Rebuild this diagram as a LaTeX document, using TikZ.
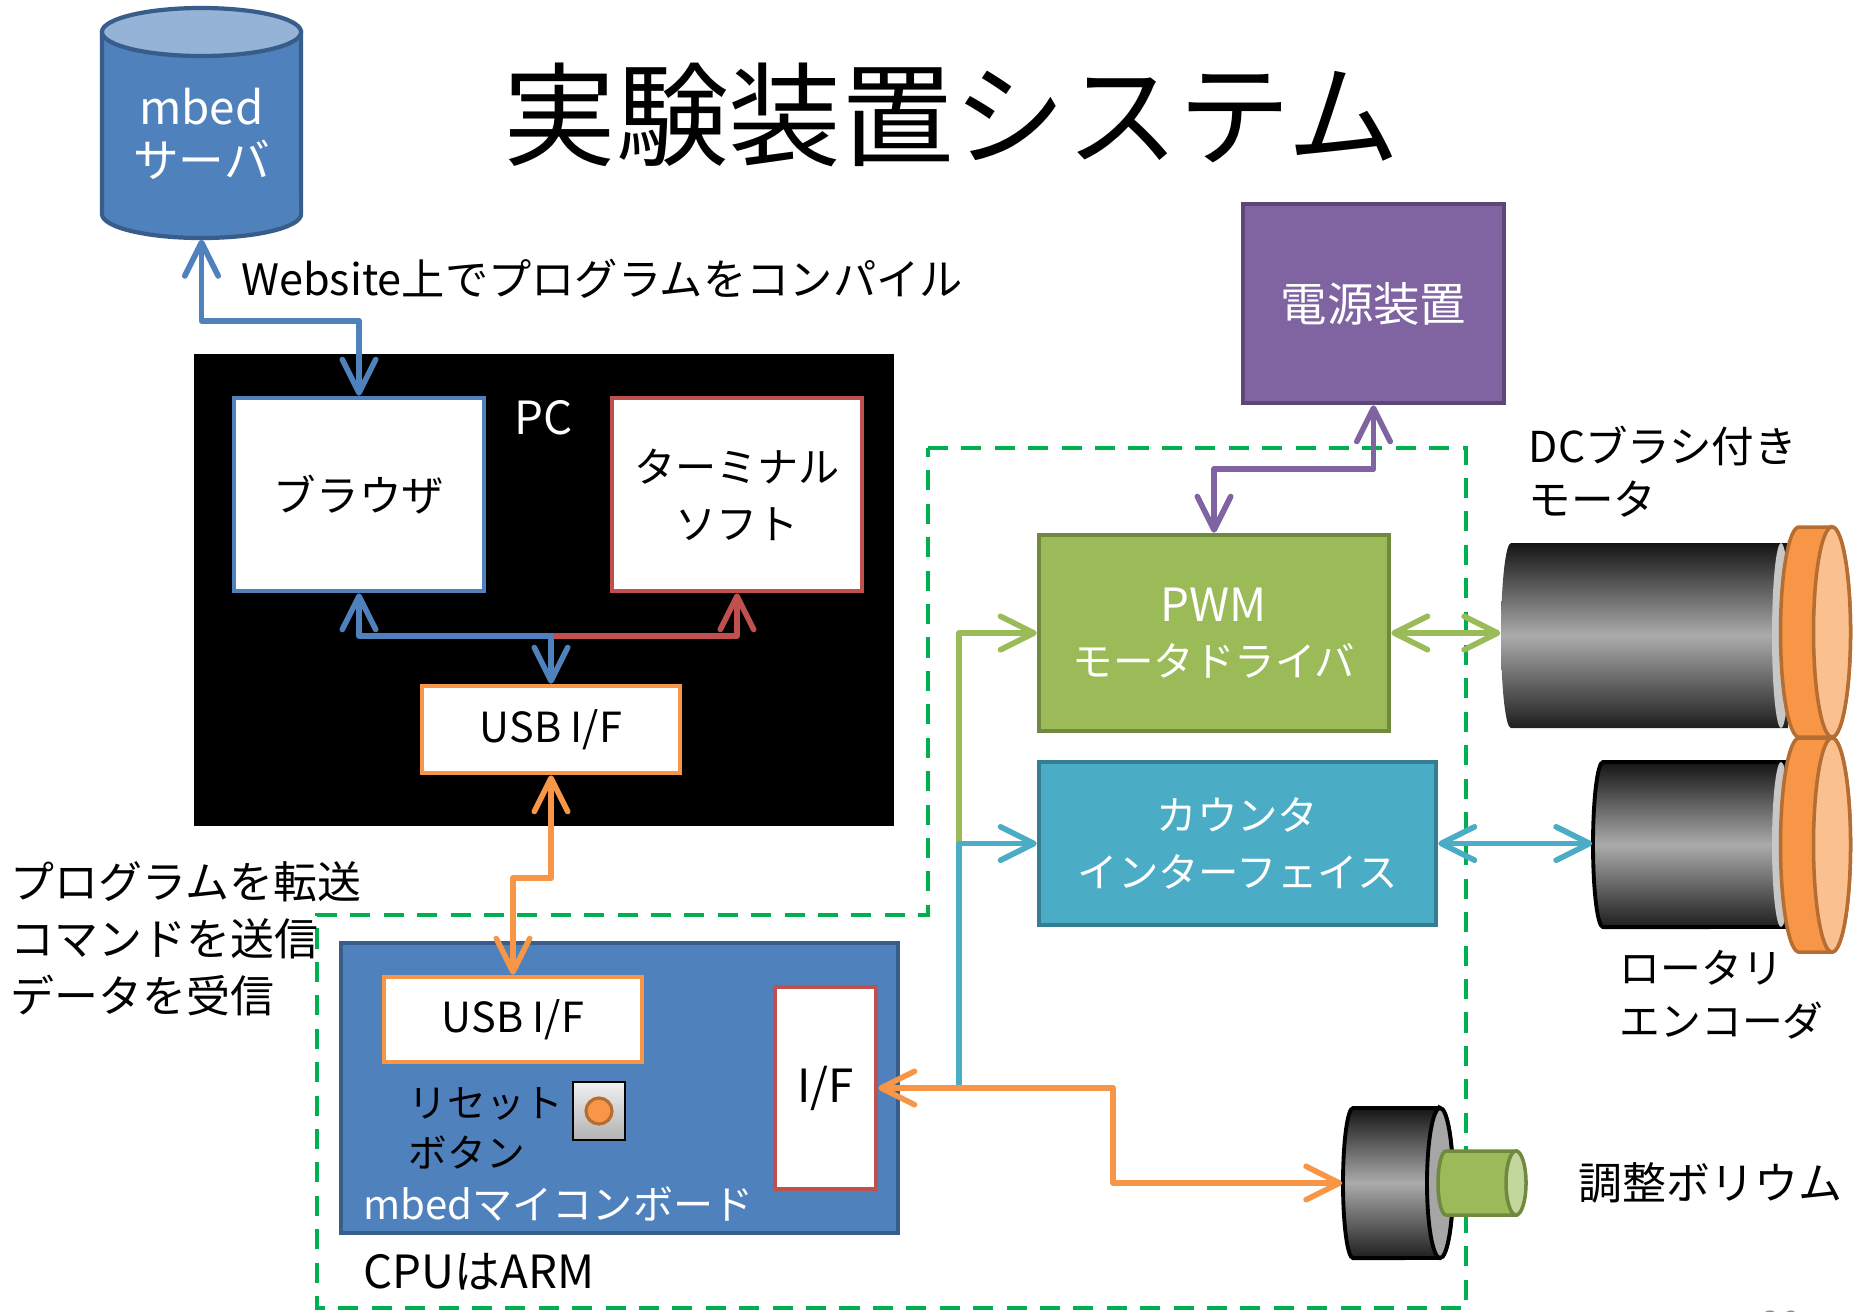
\documentclass[tikz,border=0pt]{standalone}
\usepackage{fontspec}
\setmainfont{Noto Sans CJK JP}
\usetikzlibrary{arrows.meta}

\definecolor{ublue}{HTML}{4F81BD}
\definecolor{ubluedk}{HTML}{385D8A}
\definecolor{ubluelt}{HTML}{95B3D7}
\definecolor{ured}{HTML}{C0504D}
\definecolor{ugreen}{HTML}{9BBB59}
\definecolor{ugreendk}{HTML}{71893F}
\definecolor{ugreenlt}{HTML}{C3D69B}
\definecolor{upurple}{HTML}{8064A2}
\definecolor{upurpledk}{HTML}{5C4776}
\definecolor{uaqua}{HTML}{4BACC6}
\definecolor{uaquadk}{HTML}{357D91}
\definecolor{uorange}{HTML}{F79646}
\definecolor{uorangedk}{HTML}{B66D31}
\definecolor{uorangelt}{HTML}{FAC090}
\definecolor{udash}{HTML}{00B050}

\newcommand\fsz[2]{\fontsize{#1}{#2}\selectfont}

\begin{document}
\begin{tikzpicture}[x=0.01cm, y=-0.01cm,
  >={Straight Barb[length=9.5pt,width=9.5pt,round]},
  conn/.style={line width=1.6pt, line cap=round, line join=round},
  box/.style={rectangle, draw, inner sep=0pt, line width=1.3pt},
  sz/.style 2 args={minimum width=#1*0.01cm, minimum height=#2*0.01cm},
  lbl/.style={anchor=west, align=left, inner sep=0pt},
  darkbody/.style={top color=black!92, bottom color=black!88, middle color=black!33},
]
\useasboundingbox (0,0) rectangle (1864,1311);
\fill[white] (0,0) rectangle (1864,1311);

% ---- title ----
\node[font=\fsz{32pt}{36pt}] (title) at (952,115) {実験装置システム};

% ---- mbed server (cylinder) ----
\filldraw[fill=ublue, draw=ubluedk, line width=1.2pt]
  (102,32) -- (102,214) arc[start angle=180, end angle=360, x radius=0.995cm, y radius=0.24cm]
  -- (301,32) -- cycle;
\filldraw[fill=ubluelt, draw=ubluedk, line width=1.2pt]
  (201.5,32) ellipse[x radius=0.995cm, y radius=0.24cm];
\node[sz={199}{210}, inner sep=0pt, text=white, align=center, font=\fsz{13pt}{15.1pt}]
  (server) at (201.5,134) {mbed\\サーバ};
\node[font=\fsz{12.3pt}{14pt}] (lblweb) at (602,279) {Website上でプログラムをコンパイル};

% ---- grouping outline ----
\draw[udash, line width=1.4pt, dash pattern=on 5.7pt off 3.8pt]
  (928,448) -- (1466,448) -- (1466,1308) -- (317,1308) -- (317,915) -- (928,915) -- cycle;

% ---- PC ----
\node[fill=black, sz={700}{472}, inner sep=0pt] (pcbox) at (544,590) {};
\node[text=white, font=\fsz{13pt}{15pt}] (lblpc) at (544,418) {PC};
\node[box, draw=ublue, fill=white, sz={250}{193}, font=\fsz{12.1pt}{16pt}]
  (browser) at (359,494.5) {ブラウザ};
\node[box, draw=ured, fill=white, sz={250}{193}, align=center, font=\fsz{11.7pt}{16.2pt}]
  (terminal) at (737,494.5) {ターミナル\\ソフト};
\node[box, draw=uorange, fill=white, sz={258}{87}, font=\fsz{11.8pt}{15pt}]
  (pcusb) at (551,729.5) {USB I/F};

% ---- mbed board ----
\node[box, draw=ubluedk, fill=ublue, sz={557}{290}] (board) at (619.5,1088) {};
\node[box, draw=uorange, fill=white, sz={258}{85}, font=\fsz{11.8pt}{15pt}]
  (boardusb) at (513,1019.5) {USB I/F};
\node[box, draw=ured, fill=white, sz={101}{202}, font=\fsz{13pt}{15pt}]
  (iface) at (825.5,1088) {I/F};
\node[rectangle, draw=black, line width=0.8pt, top color=black!6, bottom color=black!30,
  sz={52}{58}, inner sep=0pt] (reset) at (599,1111) {};
\filldraw[fill=uorange, draw=uorangedk, line width=0.9pt] (reset.center) circle[radius=0.13cm];
\node[lbl, font=\fsz{11pt}{14.2pt}] (lblreset) at (408,1128) {リセット\\ボタン};
\node[lbl, text=white, font=\fsz{11.4pt}{14pt}] (lblboard) at (363,1204) {mbedマイコンボード};
\node[lbl, font=\fsz{13pt}{15pt}] (lblcpu) at (363,1272) {CPUはARM};

\node[lbl, font=\fsz{12.5pt}{16.2pt}] (lblleft) at (10,939)
  {プログラムを転送\\コマンドを送信\\データを受信};

% ---- right-hand blocks ----
\node[box, draw=upurpledk, fill=upurple, text=white, sz={261}{199}, font=\fsz{13.2pt}{16pt}]
  (power) at (1373.5,303.5) {電源装置};
\node[box, draw=ugreendk, fill=ugreen, text=white, sz={350}{196}, align=center,
  font=\fsz{11.5pt}{15.6pt}] (pwm) at (1214,633) {{\fsz{13pt}{15.6pt}PWM}\\モータドライバ};
\node[box, draw=uaquadk, fill=uaqua, text=white, sz={397}{163}, align=center,
  font=\fsz{11.5pt}{16.2pt}] (counter) at (1237.5,843.5) {カウンタ\\インターフェイス};

% ---- DC motor ----
\shade[darkbody] (1788,543) -- (1511,543)
  arc[start angle=90, end angle=270, x radius=0.10cm, y radius=0.925cm] -- (1788,728) -- cycle;
\fill[black!22] (1781,635.5) ellipse[x radius=0.09cm, y radius=0.925cm];
\filldraw[fill=uorange, draw=uorangedk, line width=1pt] (1832,527) -- (1799,527)
  arc[start angle=90, end angle=270, x radius=0.185cm, y radius=1.05cm] -- (1832,737)
  arc[start angle=270, end angle=450, x radius=0.185cm, y radius=1.05cm] -- cycle;
\filldraw[fill=uorangelt, draw=uorangedk, line width=1pt] (1832,632) ellipse[x radius=0.185cm, y radius=1.05cm];
\node[sz={288}{185}, inner sep=0pt] (motor) at (1645,633) {};
\node[lbl, font=\fsz{12.1pt}{15.1pt}] (lblmotor) at (1528,472) {DCブラシ付き\\モータ};

% ---- rotary encoder ----
\shade[darkbody] (1788,762) -- (1603,762)
  arc[start angle=90, end angle=270, x radius=0.10cm, y radius=0.825cm] -- (1788,927) -- cycle;
\draw[black, line width=1.1pt] (1788,762) -- (1603,762)
  arc[start angle=90, end angle=270, x radius=0.10cm, y radius=0.825cm] -- (1788,927);
\fill[black!22] (1781,844.5) ellipse[x radius=0.09cm, y radius=0.825cm];
\filldraw[fill=uorange, draw=uorangedk, line width=1pt] (1832,738) -- (1799,738)
  arc[start angle=90, end angle=270, x radius=0.185cm, y radius=1.07cm] -- (1832,952)
  arc[start angle=270, end angle=450, x radius=0.185cm, y radius=1.07cm] -- cycle;
\filldraw[fill=uorangelt, draw=uorangedk, line width=1pt] (1832,845) ellipse[x radius=0.185cm, y radius=1.07cm];
\node[sz={196}{165}, inner sep=0pt] (encoder) at (1691,844.5) {};
\node[lbl, font=\fsz{11.6pt}{15.1pt}] (lblenc) at (1619,995) {ロータリ\\エンコーダ};

% ---- trimmer volume ----
\shade[darkbody] (1440,1108) -- (1353,1108)
  arc[start angle=90, end angle=270, x radius=0.10cm, y radius=0.75cm] -- (1440,1258)
  arc[start angle=270, end angle=450, x radius=0.13cm, y radius=0.75cm] -- cycle;
\draw[black, line width=1.1pt] (1440,1108) -- (1353,1108)
  arc[start angle=90, end angle=270, x radius=0.10cm, y radius=0.75cm] -- (1440,1258)
  arc[start angle=270, end angle=450, x radius=0.13cm, y radius=0.75cm] -- cycle;
\filldraw[fill=black!35, draw=black, line width=1.1pt] (1440,1183) ellipse[x radius=0.13cm, y radius=0.75cm];
\filldraw[fill=ugreen, draw=ugreendk, line width=1pt] (1516,1151) -- (1446,1151)
  arc[start angle=90, end angle=270, x radius=0.08cm, y radius=0.32cm] -- (1516,1215) -- cycle;
\filldraw[fill=ugreenlt, draw=ugreendk, line width=1pt] (1516,1183) ellipse[x radius=0.10cm, y radius=0.32cm];
\node[sz={110}{150}, inner sep=0pt] (volume) at (1398,1183) {};
\node[lbl, font=\fsz{12.5pt}{15pt}] (lblvol) at (1578,1183) {調整ボリウム};

% ---- connectors ----
\draw[conn, ublue, <->] (server.south) -- ++(0,81) -| (browser.north);
\path (pcusb.north) ++(0,-48) coordinate (pcsplit);
\draw[conn, ured, ->] (pcsplit) -| (terminal.south);
\draw[conn, ublue, <->] (browser.south) |- (pcsplit) -- (pcusb.north);
\draw[conn, uorange, <->] (pcusb.south) -- ++(0,103) -| (boardusb.north);
\draw[conn, upurple, <->] (power.south) -- ++(0,64) -| (pwm.north);
\path (iface.east) ++(81,0) coordinate (ifbus);
\path (ifbus |- counter.west) coordinate (cntbus);
\draw[conn, ugreen, ->] (cntbus) |- (pwm.west);
\draw[conn, uaqua, ->] (ifbus) |- (counter.west);
\draw[conn, uorange, <->] (iface.east) -- ++(235,0) |- (volume.west);
\draw[conn, ugreen, <->] (pwm.east) -- (pwm.east -| motor.west);
\draw[conn, uaqua, <->] (counter.east) -- (counter.east -| encoder.west);

% ---- page number ----
\node[anchor=north, text=black!45, font=\fsz{10pt}{12pt}] (pagenum) at (1781,1299) {20};
\end{tikzpicture}
\end{document}
